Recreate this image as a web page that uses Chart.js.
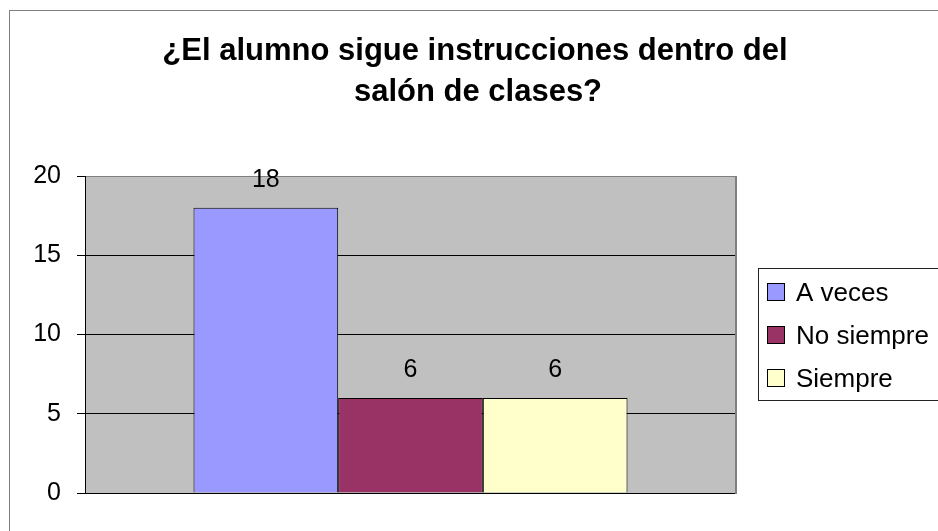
<!DOCTYPE html>
<html>
<head>
<meta charset="utf-8">
<script src="https://cdn.jsdelivr.net/npm/chart.js@4.4.1/dist/chart.umd.min.js"></script>
<style>
  html, body { margin: 0; padding: 0; background: #ffffff; }
  #wrap { position: relative; width: 938px; height: 531px; }
</style>
</head>
<body>
<div id="wrap"><canvas id="c"></canvas></div>
<script>
const titleLines = ['¿El alumno sigue instrucciones dentro del', 'salón de clases?'];
const categories = [''];
const seriesNames = ['A veces', 'No siempre', 'Siempre'];
const seriesValues = [[18], [6], [6]];
const seriesColors = ['#9999FF', '#993366', '#FFFFCC'];
const yTicks = [0, 5, 10, 15, 20];

const FONT = "'Liberation Sans', Arial, Helvetica, sans-serif";
Chart.defaults.font.family = FONT;
Chart.defaults.color = '#000';

const decor = {
  id: 'decor',
  beforeDraw(chart) {
    const ctx = chart.ctx, a = chart.chartArea;
    ctx.save();
    ctx.strokeStyle = '#808080';
    ctx.lineWidth = 1;
    ctx.strokeRect(9.5, 10.5, 1000, 600);
    ctx.fillStyle = '#C0C0C0';
    ctx.fillRect(a.left, a.top, a.right - a.left, a.bottom - a.top);
    ctx.restore();
  },
  afterDatasetsDraw(chart) {
    const ctx = chart.ctx, a = chart.chartArea;
    ctx.save();
    ctx.strokeStyle = '#808080';
    ctx.lineWidth = 2;
    ctx.beginPath();
    ctx.moveTo(a.right, a.top);
    ctx.lineTo(a.right, a.bottom + 1);
    ctx.stroke();
    ctx.fillStyle = '#000';
    ctx.font = '25px ' + FONT;
    ctx.textAlign = 'center';
    ctx.textBaseline = 'middle';
    chart.data.datasets.forEach((ds, i) => {
      const meta = chart.getDatasetMeta(i);
      meta.data.forEach((bar, j) => {
        ctx.fillText(String(ds.data[j]), bar.x, bar.y - 28);
      });
    });
    ctx.restore();
  },
  afterDraw(chart) {
    const ctx = chart.ctx;
    ctx.save();
    ctx.fillStyle = '#000';
    ctx.font = 'bold 31px ' + FONT;
    ctx.textAlign = 'center';
    ctx.textBaseline = 'alphabetic';
    ctx.fillText(titleLines[0], 475, 60);
    ctx.fillText(titleLines[1], 478, 101);
    ctx.strokeStyle = '#222';
    ctx.lineWidth = 1;
    ctx.fillStyle = '#fff';
    ctx.fillRect(758.5, 268.5, 300, 132);
    ctx.strokeRect(758.5, 268.5, 300, 132);
    ctx.font = '26px ' + FONT;
    ctx.textAlign = 'left';
    chart.data.datasets.forEach((ds, i) => {
      const yb = 301 + i * 43;
      ctx.fillStyle = ds.backgroundColor;
      ctx.fillRect(767.5, yb - 17.5, 17, 17);
      ctx.strokeStyle = '#000';
      ctx.strokeRect(767.5, yb - 17.5, 17, 17);
      ctx.fillStyle = '#000';
      ctx.fillText(ds.label, 796, yb);
    });
    ctx.restore();
  }
};

new Chart(document.getElementById('c'), {
  type: 'bar',
  data: {
    labels: categories,
    datasets: seriesNames.map((name, i) => ({
      label: name,
      data: seriesValues[i],
      backgroundColor: seriesColors[i],
      borderColor: '#000',
      borderWidth: 1,
      categoryPercentage: 0.6667,
      barPercentage: 1.0
    }))
  },
  options: {
    responsive: true,
    maintainAspectRatio: false,
    animation: false,
    events: [],
    layout: { padding: { left: 0, right: 202, top: 176, bottom: 38 } },
    plugins: { legend: { display: false }, title: { display: false }, tooltip: { enabled: false } },
    scales: {
      x: { display: false },
      y: {
        min: 0, max: 20,
        afterBuildTicks(scale) { scale.ticks = yTicks.map(v => ({ value: v })); },
        afterFit(scale) { scale.width = 85; },
        ticks: { stepSize: 5, padding: 16, color: '#000', font: { size: 25 } },
        grid: {
          color: ctx => (ctx.tick && ctx.tick.value === 20) ? '#808080' : '#000',
          tickColor: '#000',
          tickLength: 8,
          lineWidth: 1
        },
        border: { color: '#000', width: 1 }
      }
    }
  },
  plugins: [decor]
});
</script>
</body>
</html>
